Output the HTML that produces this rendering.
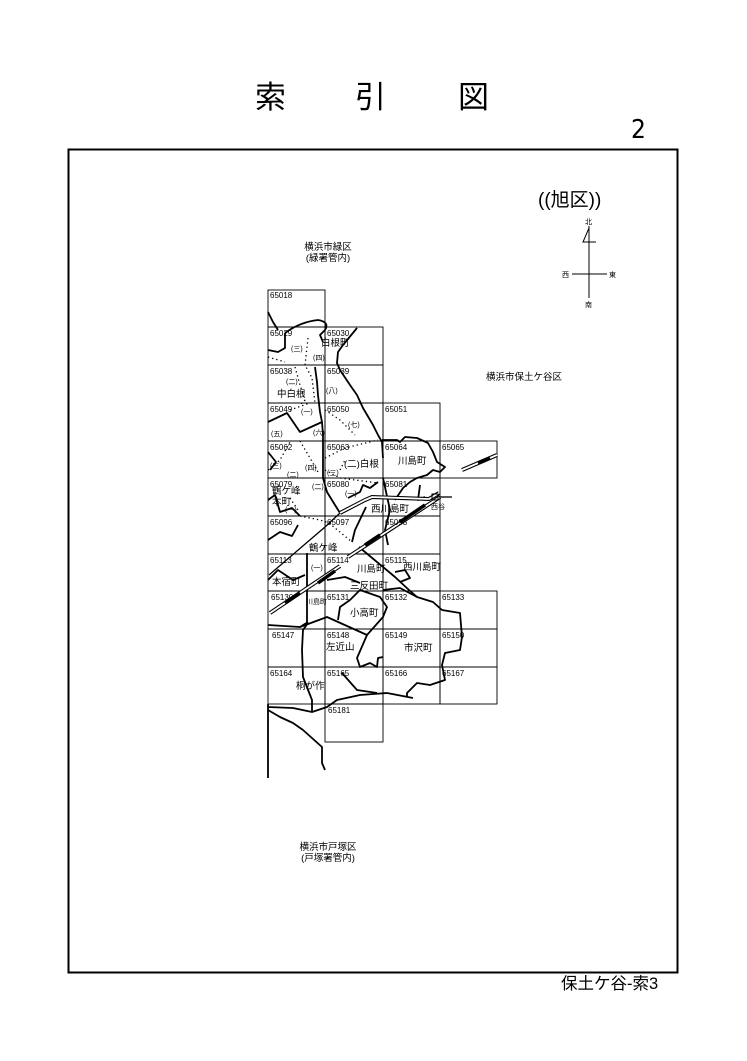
<!DOCTYPE html>
<html><head><meta charset="utf-8"><style>
html,body{margin:0;padding:0;background:#fff;}
svg{display:block;font-family:"Liberation Sans","Noto Sans CJK JP",sans-serif;}
.n{font-size:8px;fill:#000}
.p{font-size:9.5px;fill:#000}
.s{font-size:7px;fill:#000}
.g{fill:none;stroke:#000;stroke-width:0.9}
.b{fill:none;stroke:#000;stroke-width:1.8;stroke-linejoin:round}
.d{fill:none;stroke:#000;stroke-width:1.3;stroke-dasharray:1.3 3}
</style></head><body>
<svg width="747" height="1061" viewBox="0 0 747 1061" xmlns="http://www.w3.org/2000/svg">
<text x="255" y="108" style="font-size:31px">索</text>
<text x="355" y="108" style="font-size:31px">引</text>
<text x="458" y="108" style="font-size:31px">図</text>
<text x="631" y="138" style="font-size:26px;font-family:'DejaVu Sans Condensed','Liberation Sans',sans-serif">2</text>
<rect x="68.5" y="149.5" width="609" height="823" fill="none" stroke="#000" stroke-width="2"/>
<text x="538" y="206" style="font-size:19px">((旭区))</text>
<g stroke="#000" stroke-width="1" fill="none">
<line x1="589" y1="226" x2="589" y2="298"/><line x1="572" y1="274" x2="607" y2="274"/>
<polyline points="589,228 583,242 596,242"/></g>
<text x="585" y="224" class="s">北</text><text x="562" y="277" class="s">西</text>
<text x="609" y="277" class="s">東</text><text x="585" y="307" class="s">南</text>
<text x="328" y="250" class="p" text-anchor="middle">横浜市緑区</text>
<text x="328" y="261" class="p" text-anchor="middle">(緑署管内)</text>
<text x="524" y="380" class="p" text-anchor="middle">横浜市保土ケ谷区</text>
<text x="328" y="850" class="p" text-anchor="middle">横浜市戸塚区</text>
<text x="328" y="861" class="p" text-anchor="middle">(戸塚署管内)</text>
<text x="561" y="989" style="font-size:16.5px">保土ケ谷-索3</text>
<!-- grid -->
<g class="g">
<rect x="268" y="290" width="57" height="37"/>
<rect x="268" y="327" width="57" height="38"/><rect x="325" y="327" width="58" height="38"/>
<rect x="268" y="365" width="57" height="38"/><rect x="325" y="365" width="58" height="38"/>
<rect x="268" y="403" width="57" height="38"/><rect x="325" y="403" width="58" height="38"/><rect x="383" y="403" width="57" height="38"/>
<rect x="268" y="441" width="57" height="37"/><rect x="325" y="441" width="58" height="37"/><rect x="383" y="441" width="57" height="37"/><rect x="440" y="441" width="57" height="37"/>
<rect x="268" y="478" width="57" height="38"/><rect x="325" y="478" width="58" height="38"/><rect x="383" y="478" width="57" height="38"/>
<rect x="268" y="516" width="57" height="38"/><rect x="325" y="516" width="58" height="38"/><rect x="383" y="516" width="57" height="38"/>
<rect x="268" y="554" width="57" height="37"/><rect x="325" y="554" width="58" height="37"/><rect x="383" y="554" width="57" height="37"/>
<rect x="268" y="591" width="57" height="38"/><rect x="325" y="591" width="58" height="38"/><rect x="383" y="591" width="57" height="38"/><rect x="440" y="591" width="57" height="38"/>
<rect x="268" y="629" width="57" height="38"/><rect x="325" y="629" width="58" height="38"/><rect x="383" y="629" width="57" height="38"/><rect x="440" y="629" width="57" height="38"/>
<rect x="268" y="667" width="57" height="37"/><rect x="325" y="667" width="58" height="37"/><rect x="383" y="667" width="57" height="37"/><rect x="440" y="667" width="57" height="37"/>
<rect x="325" y="704" width="58" height="38"/>
</g>
<line x1="268" y1="704" x2="268" y2="778" stroke="#000" stroke-width="1.8"/>
<!-- boundaries -->
<g class="b">
<path d="M268,312 L273,322 L278,330"/>
<path d="M285,333 Q300,322 318,320 Q330,322 325,330 L320,335 L323,342"/>
<path d="M357,328 L343,345 L338,352 L337,363 L340,370 L350,385 L357,395 L363,408 L373,425 L378,435 L382,442 L383,458"/>
<path d="M382,440 L397,440 L400,442 L405,437 L417,438 L428,443 L433,452 L437,462 L445,467 L440,472 L433,470 L427,475 L417,478 L410,482 L403,488 L395,500"/>
<path d="M285,333 L285,348 L278,352 L268,350"/>
<path d="M315,367 L317,382 L318,395 L320,412 L322,422 L300,432 L287,413 L268,422"/>
<path d="M322,422 L323,435 L323,478 L327,492 L335,505 L340,513"/>
<path d="M348,498 L360,492 L363,485 L370,488 L378,482"/>
<path d="M268,452 L276,462 L270,470"/>
<path d="M268,500 L275,495 L280,512 L292,508 L300,516"/>
<path d="M268,540 L280,532 L292,536 L298,525"/>
<path d="M268,580 L278,570 L293,580 L305,575"/>
<path d="M268,625 L300,627 L308,622"/>
<path d="M307,553 L307,623"/>
<path d="M300,627 L327,617 L367,635 L357,658 L360,667 L370,663 L377,667 L378,658 L383,657"/>
<path d="M350,600 L360,590 L380,597 L387,607 L383,617 L367,635"/>
<path d="M350,600 L340,607 L338,620"/>
<path d="M359,547 L395,577 L409,590 L417,597 L433,602 L442,610 L460,613 L462,637 L460,650 L445,653 L442,665 L445,680 L430,685 L417,683 L407,693 L407,697"/>
<path d="M383,590 L400,588 L417,597"/>
<path d="M312,712 L312,700 L303,677 L302,650 L303,630 L308,623"/>
<path d="M268,707 L293,708 L312,712 L327,707 L337,700 L360,695 L387,693 L413,698"/>
<path d="M342,673 L357,690 L377,693"/>
<path d="M268,710 L280,717 L293,723 L303,730 L322,747 L322,763 L325,770"/>
<path d="M400,582 L410,578 L405,570 L395,572"/>
<path d="M420,485 L418,500 L425,497"/>
<path d="M383,478 L390,510 L385,530 L388,545"/>
<path d="M366,507 L355,530 L352,542"/>
<path d="M327,580 L345,577 L360,583"/>
</g>
<!-- rail -->
<g fill="none" stroke="#000">
<path d="M340,513 L365,500 L372,497 L429,499 L439,493" stroke-width="4"/>
<path d="M340,513 L365,500 L372,497 L429,499 L439,493" stroke="#fff" stroke-width="1.8"/>
<path d="M269,575 L325,527 L340,513" stroke-width="1.3"/>
<path d="M270,613 L340,566" stroke-width="4"/><path d="M270,613 L340,566" stroke="#fff" stroke-width="1.8"/>
<path d="M348,557 L440,497" stroke-width="4"/><path d="M348,557 L440,497" stroke="#fff" stroke-width="1.8"/>
<path d="M365,545 L380,535 M400,522 L425,505 M285,603 L300,593 M318,583 L335,571" stroke-width="3.5"/>
<path d="M462,470 L497,455" stroke-width="4"/><path d="M462,470 L497,455" stroke="#fff" stroke-width="1.8"/>
<path d="M478,463 L490,458" stroke-width="3.5"/>
<path d="M439,497 L452,497" stroke-width="1.3"/>
<rect x="432" y="494" width="6" height="6" stroke-width="1"/>
</g>
<!-- dotted -->
<g class="d">
<path d="M308,338 L305,365 L312,378 L315,403"/>
<path d="M295,367 L300,385 L305,400 L300,405"/>
<path d="M268,357 L285,362"/>
<path d="M290,410 L310,403"/>
<path d="M325,410 L340,420 L355,435"/>
<path d="M300,441 L310,458 L318,472"/>
<path d="M268,470 L280,460 L290,442"/>
<path d="M325,458 L345,448 L378,440"/>
<path d="M325,470 L340,478 L378,483"/>
<path d="M290,498 L298,510"/>
<path d="M300,516 L320,520 L329,523 L352,542"/>
<path d="M340,470 L345,460"/>
</g>
<!-- tile numbers -->
<g class="n">
<text x="270" y="298">65018</text>
<text x="270" y="336">65029</text><text x="327" y="336">65030</text>
<text x="270" y="374">65038</text><text x="327" y="374">65039</text>
<text x="270" y="412">65049</text><text x="327" y="412">65050</text><text x="385" y="412">65051</text>
<text x="270" y="450">65062</text><text x="327" y="450">65063</text><text x="385" y="450">65064</text><text x="442" y="450">65065</text>
<text x="270" y="487">65079</text><text x="327" y="487">65080</text><text x="385" y="487">65081</text>
<text x="270" y="525">65096</text><text x="327" y="525">65097</text><text x="385" y="525">65098</text>
<text x="270" y="563">65113</text><text x="327" y="563">65114</text><text x="385" y="563">65115</text>
<text x="271" y="600">65130</text><text x="327" y="600">65131</text><text x="385" y="600">65132</text><text x="442" y="600">65133</text>
<text x="272" y="638">65147</text><text x="327" y="638">65148</text><text x="385" y="638">65149</text><text x="442" y="638">65150</text>
<text x="270" y="676">65164</text><text x="327" y="676">65165</text><text x="385" y="676">65166</text><text x="442" y="676">65167</text>
<text x="328" y="713">65181</text>
</g>
<g class="p">
<text x="321" y="346">白根町</text>
<text x="277" y="397">中白根</text>
<text x="398" y="464">川島町</text>
<text x="344" y="467">(二)白根</text>
<text x="272" y="494">鶴ケ峰</text><text x="272" y="505">本町</text>
<text x="371" y="512">西川島町</text>
<text x="309" y="551">鶴ケ峰</text>
<text x="357" y="572">川島町</text>
<text x="403" y="570">西川島町</text>
<text x="272" y="585">本宿町</text>
<text x="350" y="589">三反田町</text>
<text x="350" y="616">小高町</text>
<text x="326" y="650">左近山</text>
<text x="404" y="651">市沢町</text>
<text x="296" y="689">桐が作</text>
</g>
<g class="s">
<text x="431" y="509">西谷</text>
<text x="306" y="604">川島町</text>
<text x="291" y="351">(三)</text><text x="313" y="360">(四)</text>
<text x="286" y="384">(二)</text><text x="326" y="393">(八)</text>
<text x="301" y="414">(一)</text><text x="271" y="436">(五)</text><text x="313" y="435">(六)</text>
<text x="348" y="427">(七)</text>
<text x="270" y="468">(三)</text><text x="287" y="477">(二)</text><text x="305" y="470">(四)</text><text x="327" y="475">(三)</text>
<text x="312" y="489">(二)</text><text x="345" y="496">(一)</text><text x="285" y="512">(一)</text>
<text x="311" y="570">(一)</text>
</g>
</svg>
</body></html>
